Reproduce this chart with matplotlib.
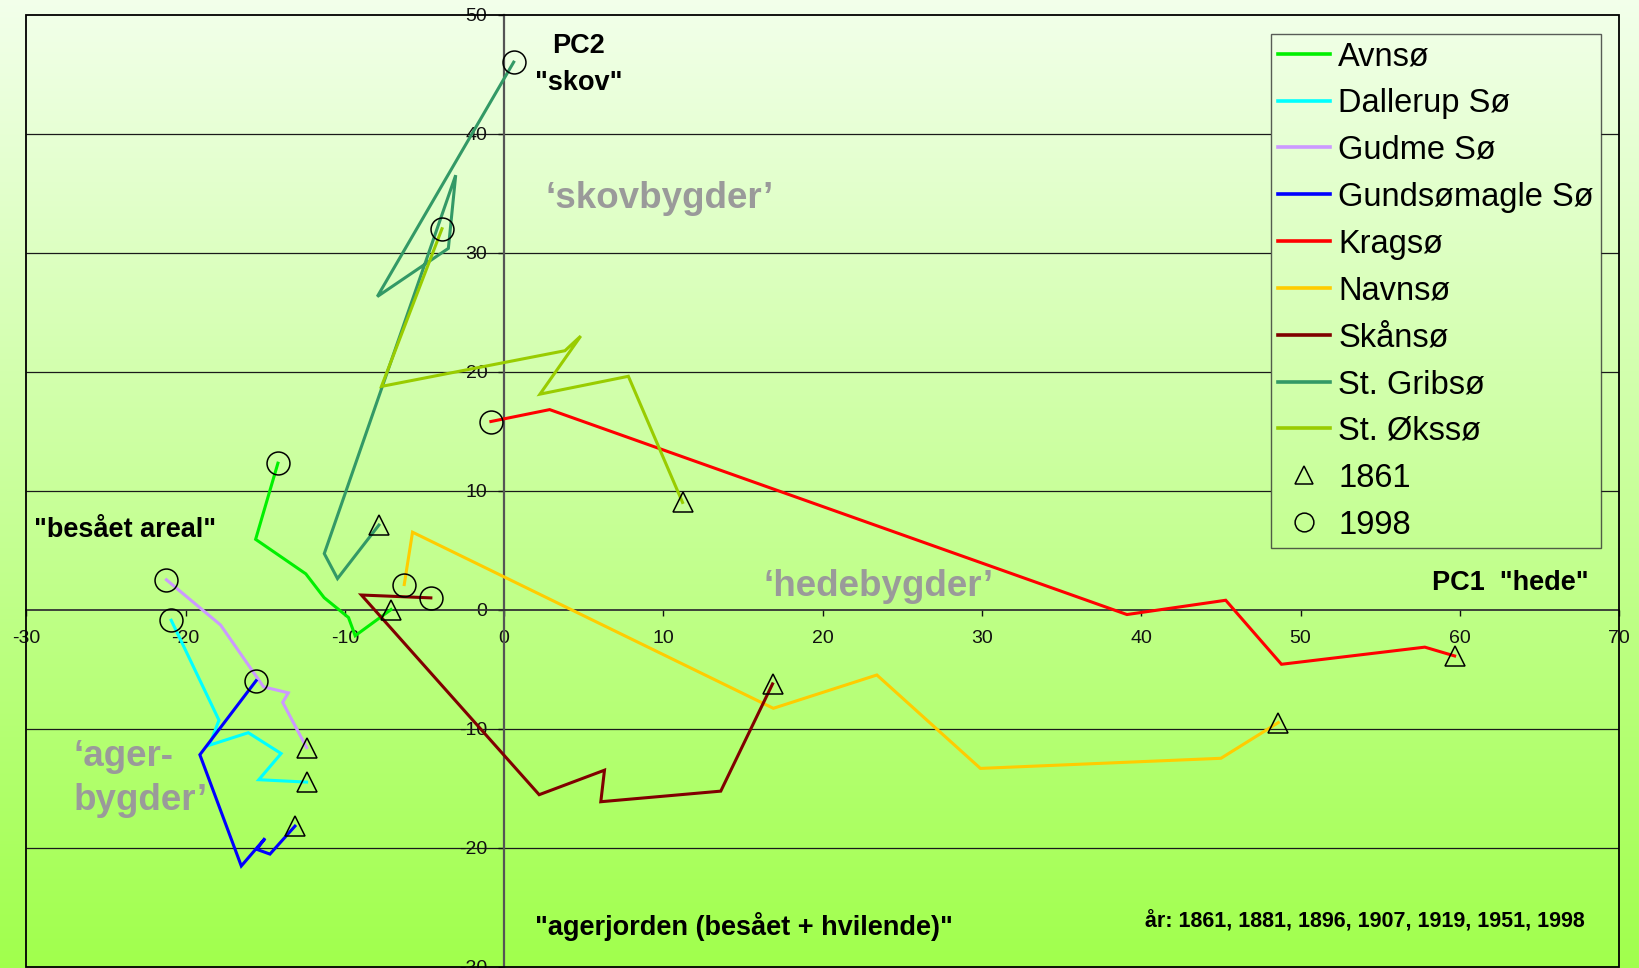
import numpy as np
import matplotlib
matplotlib.use('Agg')
import matplotlib.pyplot as plt
from matplotlib.path import Path
from matplotlib.lines import Line2D
from matplotlib.patches import Rectangle

plt.rcParams['font.family'] = ['Liberation Sans', 'DejaVu Sans']

# ---------------- data ----------------
years = [1861, 1881, 1896, 1907, 1919, 1951, 1998]
lakes = ["Avnsø", "Dallerup Sø", "Gudme Sø", "Gundsømagle Sø", "Kragsø",
         "Navnsø", "Skånsø", "St. Gribsø", "St. Økssø"]
colors = ["#00f000", "#00ffff", "#cc99ff", "#0000ff", "#ff0000",
          "#ffcc00", "#800000", "#339966", "#99cc00"]

avnso_pc1 = [-7.1, -9.35, -9.77, -11.3, -12.45, -15.6, -14.2]
avnso_pc2 = [0.0, -2.2, -0.67, 1.0, 3.0, 5.9, 12.3]

dallerup_pc1 = [-12.4, -15.4, -14.0, -16.06, -18.5, -17.9, -20.9]
dallerup_pc2 = [-14.5, -14.3, -12.1, -10.35, -11.4, -9.3, -0.9]

gudme_pc1 = [-12.4, -13.9, -13.55, -15.1, -17.8, -21.2]
gudme_pc2 = [-11.6, -7.8, -7.0, -6.5, -1.3, 2.5]

gundsomagle_pc1 = [-13.13, -14.7, -15.53, -15.01, -16.5, -19.1, -15.57]
gundsomagle_pc2 = [-18.2, -20.55, -20.15, -19.23, -21.55, -12.2, -5.98]

kragso_pc1 = [59.67, 57.8, 48.8, 45.3, 39.1, 2.86, -0.83]
kragso_pc2 = [-3.9, -3.16, -4.6, 0.78, -0.42, 16.8, 15.8]

navnso_pc1 = [48.6, 45.0, 29.9, 23.4, 16.9, -5.75, -6.27]
navnso_pc2 = [-9.5, -12.5, -13.35, -5.5, -8.3, 6.5, 2.1]

skanso_pc1 = [16.85, 13.6, 6.07, 6.3, 2.2, -8.96, -4.6]
skanso_pc2 = [-6.25, -15.26, -16.15, -13.5, -15.56, 1.22, 0.98]

gribso_pc1 = [-7.86, -10.46, -11.29, -3.04, -3.5, -7.96, 0.6]
gribso_pc2 = [7.1, 2.6, 4.7, 36.5, 30.35, 26.3, 46.0]

oksso_pc1 = [11.2, 7.8, 2.25, 4.81, 3.82, -7.7, -3.9]
oksso_pc2 = [9.0, 19.6, 18.1, 22.98, 21.75, 18.75, 32.0]

series_pc1 = [avnso_pc1, dallerup_pc1, gudme_pc1, gundsomagle_pc1, kragso_pc1,
              navnso_pc1, skanso_pc1, gribso_pc1, oksso_pc1]
series_pc2 = [avnso_pc2, dallerup_pc2, gudme_pc2, gundsomagle_pc2, kragso_pc2,
              navnso_pc2, skanso_pc2, gribso_pc2, oksso_pc2]

x_ticks = [-30, -20, -10, 0, 10, 20, 30, 40, 50, 60, 70]
y_ticks = [-30, -20, -10, 0, 10, 20, 30, 40, 50]

# ---------------- figure ----------------
fig = plt.figure(figsize=(16.4, 9.68), dpi=100)

# gradient background over whole figure
bg = fig.add_axes([0, 0, 1, 1], zorder=-10)
top = np.array([0.95, 1.0, 0.92])
bot = np.array([0.63, 1.0, 0.30])
t = np.linspace(0, 1, 256)[:, None]
grad = (top[None, :] * (1 - t) + bot[None, :] * t)[:, None, :]
bg.imshow(grad, aspect='auto', extent=[0, 1, 0, 1], interpolation='bilinear')
bg.set_axis_off()

ax = fig.add_axes([0.016, 0.0015, 0.9713, 0.9835])
ax.set_facecolor('none')
ax.set_xlim(-30, 70)
ax.set_ylim(-30, 50)

# horizontal gridlines
grid = ax.hlines([v for v in y_ticks if v not in (0, -30, 50)], -30, 70,
                 colors='#1a1a1a', linewidth=0.9, zorder=1)

# axes through origin
ax.spines['left'].set_position(('data', 0))
ax.spines['bottom'].set_position(('data', 0))
ax.spines['left'].set_color('#555555')
ax.spines['left'].set_linewidth(1.6)
ax.spines['bottom'].set_color('#333333')
ax.spines['bottom'].set_linewidth(1.3)
ax.spines['top'].set_visible(False)
ax.spines['right'].set_visible(False)
ax.add_patch(Rectangle((0, 0), 1, 1, transform=ax.transAxes, fill=False,
                       edgecolor='black', linewidth=1.3, clip_on=False, zorder=5))

ax.set_xticks(x_ticks)
ax.set_yticks(y_ticks)
ax.set_xticklabels([str(v) for v in x_ticks])
ax.set_yticklabels([str(v) for v in y_ticks])
ax.tick_params(axis='x', direction='out', length=4, width=1, pad=11,
               labelsize=14, colors='#111111')
ax.tick_params(axis='y', direction='out', length=4, width=1, pad=8,
               labelsize=14, colors='#111111')

# series
for name, c, xs, ys in zip(lakes, colors, series_pc1, series_pc2):
    ax.plot(xs, ys, color=c, lw=2.2, solid_joinstyle='miter', zorder=3, label=name)
    ax.plot(xs[0], ys[0], marker='^', ms=14, mfc='none', mec='black', mew=1.1,
            ls='none', zorder=4)
    ax.plot(xs[-1], ys[-1], marker='o', ms=16.5, mfc='none', mec='black', mew=1.1,
            ls='none', zorder=4)

# legend
handles = [Line2D([], [], color=c, lw=2.6) for c in colors]
handles += [Line2D([], [], marker='^', ms=13, mfc='none', mec='black', mew=1.1, ls='none'),
            Line2D([], [], marker='o', ms=13.5, mfc='none', mec='black', mew=1.1, ls='none')]
labels = lakes + [str(years[0]), str(years[-1])]
leg = ax.legend(handles, labels, loc='upper right', bbox_to_anchor=(0.9886, 0.9795),
                borderaxespad=0, fontsize=23.5, handlelength=1.6, handletextpad=0.25,
                borderpad=0.22, labelspacing=0.485, fancybox=False, frameon=True)
leg.get_frame().set_facecolor('none')
leg.get_frame().set_edgecolor('#333333')
leg.get_frame().set_linewidth(1.0)

# annotations
bold = dict(fontweight='bold', color='black', fontsize=19.5)
ax.text(4.66, 45.8, 'PC2\n"skov"', ha='center', va='center', linespacing=1.55, **bold)
ax.text(-23.77, 6.68, '"besået areal"', ha='center', va='center', **bold)
ax.text(68.1, 2.2, 'PC1  "hede"', ha='right', va='center', **bold)
ax.text(15.03, -26.6, '"agerjorden (besået + hvilende)"', ha='center', va='center', **bold)
ax.text(54.04, -26.2, 'år: 1861, 1881, 1896, 1907, 1919, 1951, 1998', ha='center',
        va='center', fontweight='bold', color='black', fontsize=15.5)
gray = dict(fontweight='bold', color='#9a9a9a', fontsize=26.5)
ax.text(9.79, 34.5, '‘skovbygder’', ha='center', va='center', **gray)
ax.text(23.5, 1.93, '‘hedebygder’', ha='center', va='center', **gray)
ax.text(-27.05, -14.2, '‘ager-\nbygder’', ha='left', va='center', linespacing=1.3, **gray)

# hide gridlines behind legend box
fig.canvas.draw()
bb = leg.get_window_extent()
inv = ax.transAxes.inverted()
(x0, y0), (x1, y1) = inv.transform([[bb.x0, bb.y0], [bb.x1, bb.y1]])
verts = [(0, 0), (1, 0), (1, 1), (0, 1), (0, 0),
         (x0, y0), (x0, y1), (x1, y1), (x1, y0), (x0, y0)]
codes = [Path.MOVETO, Path.LINETO, Path.LINETO, Path.LINETO, Path.CLOSEPOLY,
         Path.MOVETO, Path.LINETO, Path.LINETO, Path.LINETO, Path.CLOSEPOLY]
grid.set_clip_path(Path(verts, codes), ax.transAxes)

fig.savefig('out.png', dpi=100)
